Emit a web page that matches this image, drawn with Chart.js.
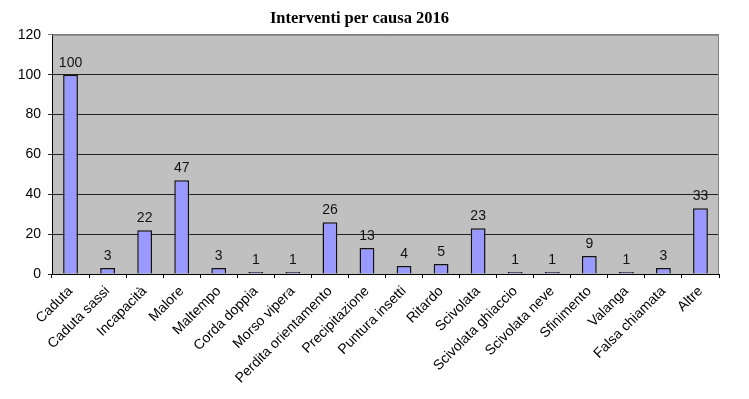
<!DOCTYPE html>
<html>
<head>
<meta charset="utf-8">
<script src="https://cdn.jsdelivr.net/npm/chart.js@4"></script>
<style>
  body { margin: 0; background: #fff; }
  canvas { display: block; }
</style>
</head>
<body>
<canvas id="causeChart" width="749" height="399"></canvas>
<script>
const causes = ["Caduta", "Caduta sassi", "Incapacità", "Malore", "Maltempo", "Corda doppia", "Morso vipera",
    "Perdita orientamento", "Precipitazione", "Puntura insetti", "Ritardo", "Scivolata", "Scivolata ghiaccio",
    "Scivolata neve", "Sfinimento", "Valanga", "Falsa chiamata", "Altre"];
const interventions = [100, 3, 22, 47, 3, 1, 1, 26, 13, 4, 5, 23, 1, 1, 9, 1, 3, 33];
const yTicks = [0, 20, 40, 60, 80, 100, 120];

// gray plot background + gray top/right frame
const plotFrame = {
    id: 'plotFrame',
    beforeDraw(chart) {
        const { ctx, chartArea: a } = chart;
        ctx.save();
        ctx.fillStyle = '#c0c0c0';
        ctx.fillRect(a.left, a.top, a.right - a.left, a.bottom - a.top);
        ctx.restore();
    },
    afterDraw(chart) {
        const { ctx, chartArea: a } = chart;
        ctx.save();
        ctx.strokeStyle = '#808080';
        ctx.lineWidth = 1;
        ctx.beginPath();
        ctx.moveTo(a.left, a.top + 0.5);
        ctx.lineTo(a.right - 0.5, a.top + 0.5);
        ctx.lineTo(a.right - 0.5, a.bottom);
        ctx.stroke();
        ctx.restore();
    }
};

// value labels above bars
const valueLabels = {
    id: 'valueLabels',
    afterDatasetsDraw(chart) {
        const ctx = chart.ctx;
        const meta = chart.getDatasetMeta(0);
        ctx.save();
        ctx.font = '14px "Liberation Sans", Arial, sans-serif';
        ctx.fillStyle = '#111';
        ctx.textAlign = 'center';
        ctx.textBaseline = 'bottom';
        meta.data.forEach((bar, i) => {
            ctx.fillText(interventions[i], bar.x, bar.y - 5);
        });
        ctx.restore();
    }
};

const causeCanvas = document.getElementById('causeChart');

new Chart(causeCanvas, {
    type: 'bar',
    data: {
        labels: causes,
        datasets: [{
            data: interventions,
            backgroundColor: '#9999ff',
            borderColor: '#111',
            borderWidth: 1.5,
            barPercentage: 0.4,
            categoryPercentage: 1
        }]
    },
    options: {
        responsive: false,
        animation: false,
        layout: { padding: { left: 0, right: 30, top: 0, bottom: 0 } },
        plugins: {
            legend: { display: false },
            tooltip: { enabled: false },
            title: {
                display: true,
                text: 'Interventi per causa 2016',
                color: '#000',
                font: { family: '"Liberation Serif", "DejaVu Serif", serif', size: 16.5, weight: 'bold', lineHeight: 1.2 },
                padding: { top: 9, bottom: 6 }
            }
        },
        scales: {
            x: {
                afterFit: scale => { scale.height = 125; },
                border: { color: '#000', width: 1 },
                grid: { drawOnChartArea: false, drawTicks: true, tickLength: 4, color: '#000', offset: true },
                ticks: {
                    autoSkip: false,
                    maxRotation: 45,
                    minRotation: 45,
                    padding: 5,
                    color: '#000',
                    font: { family: '"Liberation Sans", Arial, sans-serif', size: 14 }
                }
            },
            y: {
                min: 0,
                max: 120,
                afterFit: scale => { scale.width = 52; },
                afterBuildTicks: scale => { scale.ticks = yTicks.map(v => ({ value: v })); },
                border: { color: '#000', width: 1 },
                grid: {
                    color: ctx => ctx.tick && ctx.tick.value === 120 ? '#808080' : '#222',
                    tickLength: 4,
                    drawTicks: true
                },
                ticks: {
                    padding: 7,
                    color: '#000',
                    font: { family: '"Liberation Sans", Arial, sans-serif', size: 14 }
                }
            }
        }
    },
    plugins: [plotFrame, valueLabels]
});
</script>
</body>
</html>
